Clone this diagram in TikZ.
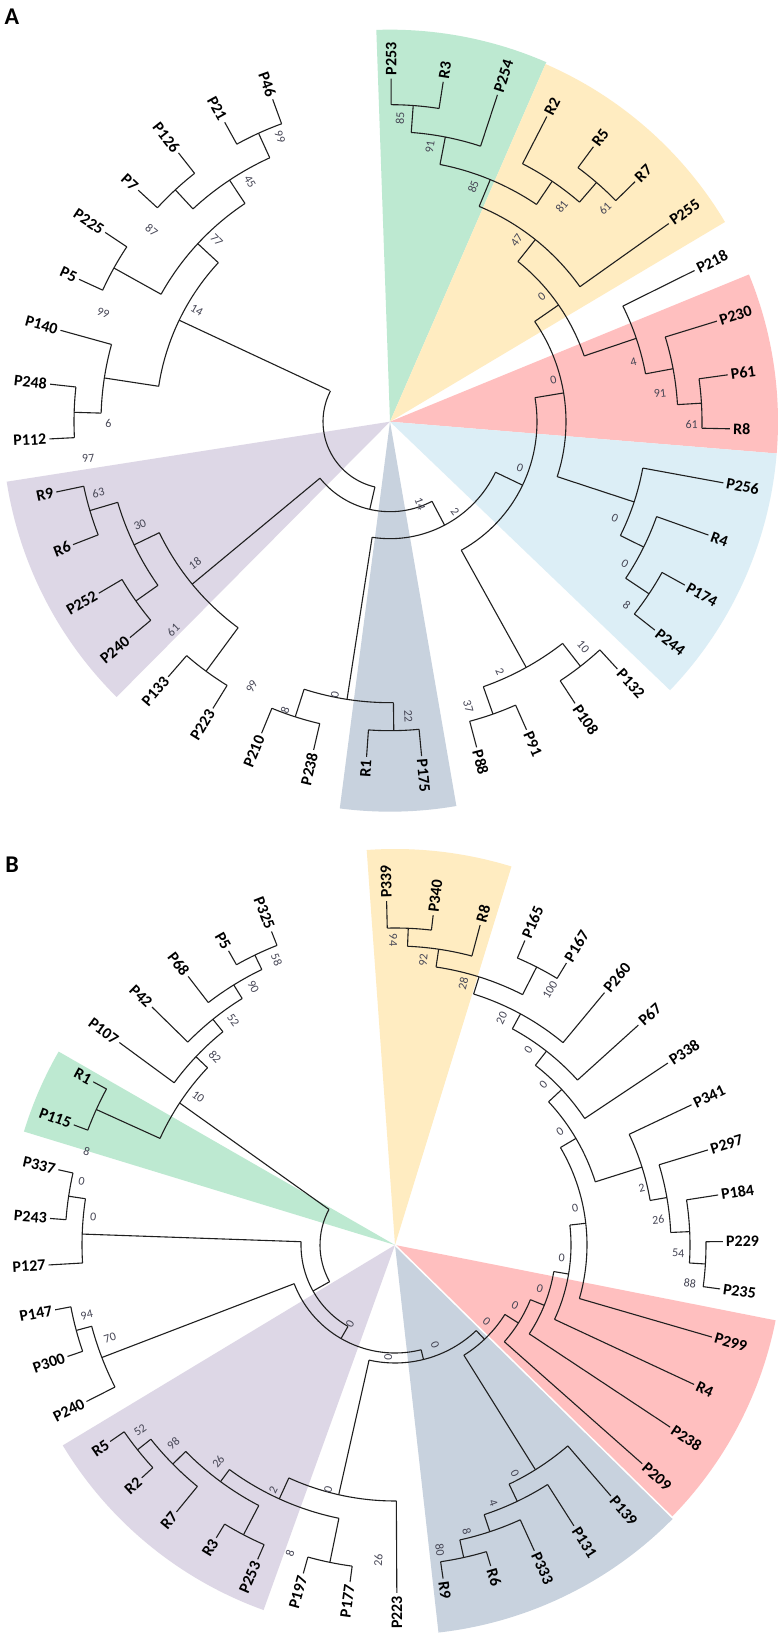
\documentclass[tikz,border=0pt]{standalone}
\usepackage{fontspec}
\setmainfont{Carlito}
\definecolor{cG}{RGB}{189,233,209}
\definecolor{cY}{RGB}{255,236,193}
\definecolor{cR}{RGB}{255,191,191}
\definecolor{cB}{RGB}{220,238,246}
\definecolor{cS}{RGB}{200,210,222}
\definecolor{cP}{RGB}{221,215,230}
\definecolor{bsc}{RGB}{70,70,85}
\tikzset{
  br/.style={line width=1.1pt, draw=black!88},
  leaf/.style={font=\bfseries\fontsize{16}{16}\selectfont, inner xsep=3pt, inner ysep=0pt, text=black},
  bs/.style={font=\fontsize{12}{12}\selectfont, text=bsc, inner sep=0pt},
  plab/.style={font=\bfseries\fontsize{24}{24}\selectfont, inner sep=0pt}
}
\newcommand\LeafR[5]{\draw[br] (#1:#2pt) -- (#1:#3pt); \node[leaf,rotate=#1,anchor=west] (#4) at (#1:#3pt) {#5};}
\newcommand\LeafL[5]{\draw[br] (#1:#2pt) -- (#1:#3pt); \node[leaf,rotate=#1+180,anchor=east] (#4) at (#1:#3pt) {#5};}
\newcommand\TArc[3]{\draw[br] (#1:#3pt) arc[start angle=#1, end angle=#2, radius=#3pt];}
\newcommand\TNode[5]{\draw[br] (#1:#3pt) -- (#1:#2pt); \TArc{#4}{#5}{#2}}
\newcommand\Sector[4]{\fill[#1] (0,0) -- (#2:#4pt) arc[start angle=#2, end angle=#3, radius=#4pt] -- cycle;}
\newcommand\BSlab[5]{%
  \pgfmathsetmacro\bsang{atan2(#2-#4,#3-#1)}%
  \pgfmathsetmacro\bsrot{ifthenelse(cos(\bsang)>-0.001,\bsang,\bsang+180)}%
  \node[bs,rotate=\bsrot] at (#3,1637-#4) {#5};}
\newcommand\BSA[3]{\BSlab{390}{421.7}{#1}{#2}{#3}}
\newcommand\BSB[3]{\BSlab{395}{1245}{#1}{#2}{#3}}
\begin{document}
\begin{tikzpicture}[x=1pt,y=1pt]
\fill[white] (0,0) rectangle (781,1637);
\useasboundingbox (0,0) rectangle (781,1637);
\node[plab] (labA) at (12,1637-17) {A};
\node[plab] (labB) at (12,1637-865) {B};
% ================= PANEL A =================
\begin{scope}[shift={(390,1215.3)}]
\Sector{cG}{66.5}{92}{392}
\Sector{cY}{30.8}{66.5}{390}
\Sector{cR}{-4.7}{22.3}{388}
\Sector{cB}{-43.8}{-4.7}{388}
\Sector{cS}{-97.4}{-80.2}{390}
\Sector{cP}{188.9}{225.2}{388}
% leaves
\LeafL{110.0}{317}{343}{aP46}{P46}
\LeafL{118.9}{317}{342}{aP21}{P21}
\LeafL{128.2}{316}{342}{aP126}{P126}
\LeafL{137.4}{316}{342}{aP7}{P7}
\LeafL{146.4}{316}{342}{aP225}{P225}
\LeafL{155.4}{316}{342}{aP5}{P5}
\LeafL{164.5}{289}{342}{aP140}{P140}
\LeafL{173.7}{316}{342}{aP248}{P248}
\LeafL{182.9}{316}{341}{aP112}{P112}
\LeafL{191.9}{313}{341}{aR9}{R9}
\LeafL{201.2}{313}{340}{aR6}{R6}
\LeafL{210.5}{311}{338}{aP252}{P252}
\LeafL{219.7}{311}{338}{aP240}{P240}
\LeafL{229.0}{310}{338}{aP133}{P133}
\LeafL{238.3}{310}{337}{aP223}{P223}
\LeafL{247.6}{310}{337}{aP210}{P210}
\LeafL{256.9}{310}{337}{aP238}{P238}
\LeafL{266.0}{309}{336}{aR1}{R1}
\LeafR{-84.6}{309}{336}{aP175}{P175}
\LeafR{-75.1}{310}{337}{aP88}{P88}
\LeafR{-66.1}{310}{337}{aP91}{P91}
\LeafR{-56.7}{310}{337}{aP108}{P108}
\LeafR{-47.4}{310}{336}{aP132}{P132}
\LeafR{-38.2}{311}{337}{aP244}{P244}
\LeafR{-29.0}{311}{337}{aP174}{P174}
\LeafR{-19.6}{283}{338}{aR4}{R4}
\LeafR{-10.4}{257}{339}{aP256}{P256}
\LeafR{-1.2}{312}{340}{aR8}{R8}
\LeafR{7.9}{312}{341}{aP61}{P61}
\LeafR{17.1}{288}{342}{aP230}{P230}
\LeafR{26.4}{260}{340}{aP218}{P218}
\LeafR{35.4}{233}{342}{aP255}{P255}
\LeafR{44.4}{316}{343}{aR7}{R7}
\LeafR{53.5}{316}{342}{aR5}{R5}
\LeafR{62.8}{290}{343}{aR2}{R2}
\LeafR{71.8}{290}{344}{aP254}{P254}
\LeafR{81.1}{317}{344}{aR3}{R3}
\LeafR{89.8}{317}{343}{aP253}{P253}
% internal nodes
\TNode{114.5}{317}{290}{110.0}{118.9}
\TNode{132.8}{316}{290}{128.2}{137.4}
\TNode{123.6}{290}{262}{114.5}{132.8}
\TNode{150.9}{316}{262}{146.4}{155.4}
\TNode{137.2}{262}{234}{123.6}{150.9}
\TNode{178.3}{316}{289}{173.7}{182.9}
\TNode{171.3}{289}{234}{164.5}{178.3}
\draw[br] (154.3:234pt) -- (152.7:68pt);
\TArc{137.2}{171.3}{234}
\TArc{152.7}{257}{67}
\TNode{257}{90}{67}{218.9}{297.8}
\draw[br] (218.9:90pt) -- (219.4:256pt);
\TArc{205.7}{233.6}{256}
\TNode{205.7}{284}{256}{196.5}{215.2}
\TNode{196.5}{313}{284}{191.9}{201.2}
\TNode{215.2}{311}{284}{210.5}{219.7}
\TNode{233.6}{310}{256}{229.0}{238.3}
\TNode{-62.2}{117}{90}{-98.8}{-25.6}
\TNode{-98.8}{281}{117}{-107.8}{-89.3}
\TNode{-107.8}{310}{281}{-112.4}{-103.1}
\TNode{-89.3}{309}{281}{-94}{-84.6}
\TNode{-25.6}{147}{117}{-61}{9.4}
\TNode{-61}{281}{147}{-70.6}{-52.1}
\TNode{-70.6}{310}{281}{-75.1}{-66.1}
\TNode{-52.1}{310}{281}{-56.7}{-47.4}
\TNode{9.4}{176}{147}{-18.2}{34.7}
\TNode{-18.2}{257}{176}{-26.3}{-10.4}
\TNode{-26.3}{283}{257}{-33.6}{-19.6}
\TNode{-33.6}{311}{283}{-38.2}{-29.0}
\TNode{34.7}{205}{176}{18.7}{51.4}
\TNode{18.7}{260}{205}{10.6}{26.4}
\TNode{10.6}{288}{260}{3.4}{17.1}
\TNode{3.4}{312}{288}{-1.2}{7.9}
\TNode{51.4}{233}{205}{35.4}{67.5}
\TNode{67.5}{262}{233}{56}{79}
\TNode{56}{290}{262}{49.2}{62.8}
\TNode{49.2}{316}{290}{44.4}{53.5}
\TNode{79}{290}{262}{71.8}{85.8}
\TNode{85.8}{317}{290}{81.1}{89.8}
\end{scope}
% bootstrap A
\BSA{280}{136.7}{99}
\BSA{250}{181.7}{45}
\BSA{151.7}{230}{87}
\BSA{216.7}{240}{77}
\BSA{103.3}{313.3}{99}
\BSA{196.7}{310}{14}
\BSA{108.3}{423.3}{6}
\BSA{88.3}{458.3}{97}
\BSA{98.3}{492.7}{63}
\BSA{140}{525}{30}
\BSA{195}{563.3}{18}
\BSA{173.3}{630}{61}
\BSA{251.7}{686.7}{99}
\BSA{285}{710}{8}
\BSA{335}{695}{0}
\BSA{408.3}{716.7}{22}
\BSA{468.3}{706.7}{37}
\BSA{500}{671.7}{2}
\BSA{583.3}{646.7}{10}
\BSA{626.7}{605}{8}
\BSA{625}{563.3}{0}
\BSA{615}{518.3}{0}
\BSA{520}{468.3}{0}
\BSA{455}{511.7}{2}
\BSA{420}{504}{14}
\BSA{691.7}{425}{61}
\BSA{660}{393.3}{91}
\BSA{633.3}{361.7}{4}
\BSA{553.3}{380}{0}
\BSA{541.7}{296.7}{0}
\BSA{516.7}{240}{47}
\BSA{473.3}{186.7}{85}
\BSA{561.7}{206.7}{81}
\BSA{605}{208.3}{61}
\BSA{430}{146.7}{91}
\BSA{400}{118.3}{85}
% ================= PANEL B =================
\begin{scope}[shift={(395,392)}]
\Sector{cY}{72.9}{94.1}{396}
\Sector{cG}{150.1}{163}{388}
\Sector{cR}{-44.5}{-11.2}{388}
\Sector{cS}{-83.6}{-44.5}{390}
\Sector{cP}{211.1}{250.2}{388}
\draw[white,line width=1.5pt] (0,0) -- (-44.5:392pt);
% leaves
\LeafR{0.6}{311}{328}{bP229}{P229}
\LeafR{8.8}{295}{327}{bP184}{P184}
\LeafR{16.9}{276}{327}{bP297}{P297}
\LeafR{25.3}{259}{328}{bP341}{P341}
\LeafR{33.7}{228}{328}{bP338}{P338}
\LeafR{42.1}{246}{328}{bP67}{P67}
\LeafR{50.3}{263}{328}{bP260}{P260}
\LeafR{58.7}{312}{330}{bP167}{P167}
\LeafR{66.9}{312}{331}{bP165}{P165}
\LeafR{75.1}{299}{331}{bR8}{R8}
\LeafR{83.4}{317}{332}{bP340}{P340}
\LeafR{91.4}{317}{344}{bP339}{P339}
\LeafL{111.5}{322}{337}{bP325}{P325}
\LeafL{119.5}{322}{338}{bP5}{P5}
\LeafL{127.6}{306}{339}{bP68}{P68}
\LeafL{135.6}{290}{340}{bP42}{P42}
\LeafL{143.7}{274}{342}{bP107}{P107}
\LeafL{151.6}{328}{343}{bR1}{R1}
\LeafL{159.5}{328}{343}{bP115}{P115}
\LeafL{167.4}{330}{345}{bP337}{P337}
\LeafL{175.6}{330}{346}{bP243}{P243}
\LeafL{183.3}{313}{347}{bP127}{P127}
\LeafL{190.8}{330}{346}{bP147}{P147}
\LeafL{198.8}{330}{346}{bP300}{P300}
\LeafL{206.9}{314}{346}{bP240}{P240}
\LeafL{214.6}{329}{346}{bR5}{R5}
\LeafL{222.6}{329}{344}{bR2}{R2}
\LeafL{230.7}{312}{345}{bR7}{R7}
\LeafL{238.6}{327}{343}{bR3}{R3}
\LeafL{246.4}{327}{343}{bP253}{P253}
\LeafL{254.4}{324}{341}{bP197}{P197}
\LeafL{262.4}{324}{340}{bP177}{P177}
\LeafL{270.3}{256}{348}{bP223}{P223}
\LeafR{-81.8}{320}{337}{bR9}{R9}
\LeafR{-73.4}{320}{335}{bR6}{R6}
\LeafR{-65.5}{302}{336}{bP333}{P333}
\LeafR{-57.5}{284}{333}{bP131}{P131}
\LeafR{-49.3}{265}{331}{bP139}{P139}
\LeafR{-41.5}{146}{330}{bP209}{P209}
\LeafR{-33.5}{161}{330}{bP238}{P238}
\LeafR{-25}{176}{330}{bR4}{R4}
\LeafR{-16.2}{192}{330}{bP299}{P299}
\LeafR{-7.7}{311}{328}{bP235}{P235}
% internal nodes
\TNode{115.8}{322}{306}{111.5}{119.5}
\TNode{121.8}{306}{290}{115.8}{127.6}
\TNode{128.9}{290}{274}{121.8}{135.6}
\TNode{136.6}{274}{258}{128.9}{143.7}
\TNode{155.6}{328}{258}{151.6}{159.5}
\draw[br] (146.6:258pt) -- (151.7:75pt);
\TArc{136.6}{155.6}{258}
\TNode{171.5}{330}{313}{167.4}{175.6}
\TNode{178}{313}{94}{171.5}{183.3}
\TNode{195}{330}{314}{190.8}{198.8}
\TNode{201}{314}{108}{195}{206.9}
\TArc{151.7}{209.3}{75}
\TNode{209.3}{94}{75}{178}{240}
\TNode{240}{108}{94}{201}{284}
\TNode{284}{118}{108}{257.3}{313.5}
\TNode{257.3}{256}{118}{245.5}{270.3}
\TNode{245.5}{279}{256}{233.6}{258.4}
\TNode{258.4}{324}{279}{254.4}{262.4}
\TNode{233.6}{294}{279}{224.6}{242.4}
\TNode{224.6}{312}{294}{218.5}{230.7}
\TNode{218.5}{329}{312}{214.6}{222.6}
\TNode{242.4}{327}{294}{238.6}{246.4}
\TNode{313.5}{130}{118}{302}{327.7}
\TNode{302}{265}{130}{295.5}{310.7}
\TNode{295.5}{284}{265}{288.3}{302.5}
\TNode{288.3}{302}{284}{282.4}{294.5}
\TNode{282.4}{320}{302}{278.2}{286.6}
\TNode{-32.3}{146}{130}{-41.5}{-22}
\TNode{-22}{161}{146}{-33.5}{-9.5}
\TNode{-9.5}{176}{161}{-25}{6.5}
\TNode{6.5}{192}{176}{-16.2}{30.5}
\TNode{30.5}{210}{192}{17.5}{43}
\TNode{17.5}{259}{210}{9.9}{25.3}
\TNode{9.9}{276}{259}{2.6}{16.9}
\TNode{2.6}{295}{276}{-3.5}{8.8}
\TNode{-3.5}{311}{295}{-7.7}{0.6}
\TNode{43}{228}{210}{33.7}{52}
\TNode{52}{246}{228}{42.1}{61.5}
\TNode{61.5}{263}{246}{50.3}{72.6}
\TNode{72.6}{281}{263}{63}{81.6}
\TNode{63}{312}{281}{58.7}{66.9}
\TNode{81.6}{299}{281}{75.1}{87.6}
\TNode{87.6}{317}{299}{83.4}{91.4}
\end{scope}
% bootstrap B
\BSB{276.7}{960}{58}
\BSB{253.3}{986.7}{90}
\BSB{233.3}{1020}{52}
\BSB{215}{1056.7}{82}
\BSB{198.3}{1096.7}{10}
\BSB{86.7}{1151.7}{8}
\BSB{81.7}{1181.7}{0}
\BSB{93.3}{1216.7}{0}
\BSB{86.7}{1315}{94}
\BSB{110}{1338.3}{70}
\BSB{350}{1324}{0}
\BSB{388.3}{1357.3}{0}
\BSB{435}{1345}{0}
\BSB{486.7}{1321.7}{0}
\BSB{515}{1305}{0}
\BSB{540}{1288.3}{0}
\BSB{561.7}{1258.3}{0}
\BSB{575}{1208.3}{0}
\BSB{560}{1131.7}{0}
\BSB{543.3}{1085}{0}
\BSB{528.3}{1050}{0}
\BSB{501.7}{1018.3}{20}
\BSB{463.3}{983.3}{28}
\BSB{550}{990}{100}
\BSB{423.3}{960}{92}
\BSB{393.3}{940}{94}
\BSB{641.7}{1188.3}{2}
\BSB{658.3}{1220}{26}
\BSB{678.3}{1253.3}{54}
\BSB{690}{1283.3}{88}
\BSB{515}{1473.3}{0}
\BSB{493.3}{1503.3}{4}
\BSB{466.7}{1531.7}{8}
\BSB{440}{1550}{80}
\BSB{378.3}{1560}{26}
\BSB{290}{1553.3}{8}
\BSB{328.3}{1490}{0}
\BSB{273.3}{1490}{2}
\BSB{218.3}{1461.7}{26}
\BSB{173.3}{1443.3}{98}
\BSB{140}{1430}{52}
\end{tikzpicture}
\end{document}
